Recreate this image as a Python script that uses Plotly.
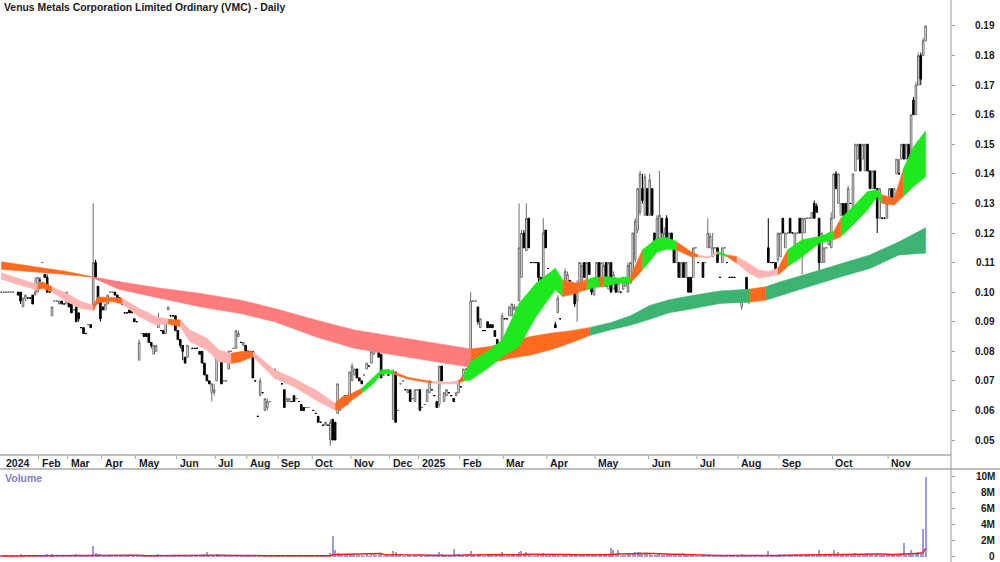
import plotly.graph_objects as go
import pandas as pd

# ---------------- DATA (prices in thousandths of a dollar: open, high, low, close) ----------------
JAN24 = [(100,100,100,100),(100,100,100,100),(100,100,100,100),(100,100,100,100),(100,100,100,100),(100,100,100,100),(103,103,103,103),(100,100,99,99),(100,100,96,97),(95,98,95,98),(98,99,97,99),(98,98,98,98),(98,98,98,98),(99,99,96,96),(99,105,99,100),(100,105,100,105)]
FEB24 = [(104,105,103,104),(110,110,110,110),(106,106,105,105),(105,106,100,100),(100,100,100,100),(92,95,92,95),(97,97,97,97),(97,97,97,97),(96,97,96,97),(97,97,96,96),(96,96,96,96),(96,100,96,100)]
MAR24 = [(97,97,95,95),(96,96,93,93),(94,94,94,94),(95,95,90,90),(93,93,90,91),(88,88,88,88),(88,88,86,86),(86,86,86,86),(89,89,89,89),(89,89,88,88),(94,130,94,110),(110,111,105,105),(102,102,96,97),(97,97,90,91)]
APR24 = [(95,95,94,94),(94,96,94,96),(96,99,96,99),(100,100,100,100),(100,100,100,100),(100,100,99,99),(99,99,98,98),(98,98,98,98),(96,96,96,96),(93,93,93,93),(93,93,93,93),(94,94,93,93),(94,94,93,93),(91,91,90,90)]
MAY24 = [(90,90,90,90),(77,84,77,83),(86,86,86,86),(86,86,85,85),(86,86,85,85),(86,86,83,83),(83,83,81,82),(79,82,79,82),(80,82,80,82),(88,93,88,90),(87,87,87,87),(87,87,86,86),(86,90,86,90),(94,95,94,95),(92,92,92,92),(92,92,92,92),(92,92,87,87)]
JUN24 = [(87,87,84,84),(84,84,81,82),(82,82,77,80),(78,78,76,76),(78,82,78,82),(86,86,86,86),(81,81,81,81),(81,81,81,81),(81,81,81,81),(80,80,79,79),(80,80,76,76),(76,76,72,72),(72,72,70,70),(70,70,69,69),(66,69,63,69),(66,69,65,67)]
JUL24 = [(70,80,70,80),(78,78,77,77),(77,77,69,69),(70,70,70,70),(70,70,70,70),(74,80,74,80),(80,80,80,80),(81,81,81,81),(81,87,81,87),(85,87,85,86),(83,83,83,83),(82,83,82,83),(82,82,80,80)]
AUG24 = [(80,80,80,80),(80,80,79,79),(80,80,71,71),(70,70,70,70),(58,58,58,58),(65,71,65,70),(66,66,66,66),(60,64,60,64),(61,64,60,63),(63,63,63,63),(73,73,73,73),(72,74,72,74),(73,73,73,73)]
SEP24 = [(71,71,71,71),(69,69,69,69),(67,67,61,61),(63,64,63,64),(63,64,63,64),(63,63,63,63),(65,65,63,63),(64,64,64,64),(63,63,63,63),(62,62,60,60),(61,61,60,60),(61,61,61,61),(61,61,61,61),(67,67,67,67)]
OCT24 = [(60,60,60,60),(59,59,59,59),(58,58,56,56),(56,56,56,56),(55,55,55,55),(55,56,55,56),(55,55,55,55),(50,57,48,56),(57,57,50,50),(56,56,50,50),(59,69,59,69),(60,63,60,63),(62,64,62,64),(65,65,62,62),(62,64,62,64),(63,73,63,73)]
NOV24 = [(70,76,70,75),(72,74,72,74),(74,74,71,71),(71,71,70,70),(70,70,69,69),(72,72,72,72),(74,76,74,76),(75,75,75,75),(76,80,76,80),(79,81,79,81),(80,81,80,81),(81,81,78,78),(79,79,71,71),(72,72,72,72),(73,73,73,73),(72,72,72,72)]
DEC24 = [(73,73,73,73),(57,74,57,73),(73,73,56,56),(60,60,60,60),(69,69,69,69),(70,70,70,70),(67,67,67,67),(66,67,66,67),(67,67,63,63),(64,64,64,64),(63,67,63,67),(67,67,67,67)]
JAN25 = [(67,67,60,60),(61,61,61,61),(62,62,62,62),(63,67,63,67),(66,70,66,70),(67,67,67,67),(65,65,65,65),(63,63,61,61),(62,75,61,75),(75,75,70,70),(63,66,63,66),(65,67,65,67),(66,66,66,66),(65,65,65,65),(64,64,63,63),(65,66,65,66),(66,70,66,70)]
FEB25 = [(68,68,68,68),(70,74,70,74),(74,74,74,74),(74,76,74,76),(77,100,76,97),(97,97,97,97),(97,97,97,97),(95,95,89,90),(88,91,88,91),(87,87,87,87),(87,87,87,87),(90,90,88,88),(89,89,88,88),(89,89,88,88),(87,87,85,85),(84,84,79,79),(80,82,80,82),(77,93,77,92)]
MAR25 = [(91,91,91,91),(91,91,91,91),(92,95,92,95),(92,96,92,96),(94,96,94,95),(91,95,91,95),(97,130,97,115),(105,121,105,120),(120,121,115,115),(114,130,114,125),(125,125,115,115),(110,110,110,110),(110,110,110,110),(110,110,110,110),(110,110,101,105),(105,105,101,101),(101,125,101,120),(121,121,115,115)]
APR25 = [(108,108,108,108),(101,105,101,105),(104,104,103,103),(89,90,88,88),(93,99,93,98),(91,91,91,91),(100,101,100,101),(102,108,102,107),(103,107,103,106),(104,104,103,103),(101,103,101,103),(102,102,95,96),(97,104,90,103),(103,110,103,110),(104,110,104,109),(110,110,105,105),(104,110,104,110),(110,110,106,106),(104,104,99,100),(99,104,99,103)]
MAY25 = [(104,110,104,110),(110,110,103,103),(102,110,102,110),(103,110,103,109),(110,110,102,102),(101,110,101,110),(110,110,100,100),(101,107,101,106),(104,104,100,100),(100,104,100,103),(100,100,100,100),(101,105,101,105),(102,105,102,104),(100,110,100,109),(103,110,103,110),(105,120,105,120),(111,125,110,124),(121,135,120,135),(127,141,126,140),(135,140,130,131),(126,140,126,139),(135,135,126,126)]
JUN25 = [(126,140,126,138),(135,135,126,126),(120,120,115,115),(116,126,115,125),(116,141,116,126),(125,125,118,120),(118,122,116,120),(125,126,115,115),(115,120,115,120),(120,120,115,115),(115,115,110,110),(110,115,110,115),(110,110,105,105),(105,110,105,110),(110,110,105,105),(105,110,105,110),(105,105,100,100),(105,105,100,100),(105,115,105,115),(115,115,115,115)]
JUL25 = [(110,110,110,110),(112,112,112,112),(110,110,105,105),(110,110,110,110),(115,125,115,120),(115,120,115,119),(112,120,112,115),(115,115,115,115),(115,115,110,110),(105,105,105,105),(110,115,110,115),(115,115,115,115),(110,110,110,110),(105,105,105,105),(105,105,105,105),(105,105,105,105),(100,100,99,99)]
AUG25 = [(100,100,99,99),(95,100,94,100),(99,99,99,99),(105,105,100,100),(98,100,96,100),(98,100,98,100),(98,100,98,99),(98,100,98,100),(98,100,98,100),(99,100,99,100),(100,100,100,100),(100,100,100,100),(115,125,110,110),(110,110,110,110),(110,110,110,110),(110,110,106,106),(111,120,110,120)]
SEP25 = [(112,120,112,120),(125,125,120,120),(115,120,115,120),(120,120,120,120),(125,125,120,120),(120,120,120,120),(115,120,115,120),(120,120,120,120),(125,125,120,120),(120,125,106,125),(120,125,120,125),(125,125,125,125),(125,125,125,125),(125,127,125,127),(130,131,125,125),(129,130,127,127),(125,125,106,110),(110,120,110,120),(110,115,110,115),(115,115,115,115),(116,120,116,120),(115,127,115,125)]
OCT25 = [(125,140,125,140),(140,141,135,135),(130,140,130,140),(126,130,126,130),(130,130,126,126),(130,130,126,126),(126,136,126,135),(130,130,130,130),(126,140,126,140),(141,150,141,150),(145,150,145,150),(150,150,141,141),(145,150,145,150),(141,150,141,150),(150,150,141,141),(141,141,135,135),(135,141,135,141),(141,141,135,135),(135,135,120,125),(125,135,125,135),(125,125,125,125),(125,125,125,125),(125,130,125,130)]
NOV25 = [(130,135,130,135),(135,135,130,131),(131,135,131,135),(140,145,140,145),(140,145,140,140),(145,150,145,150),(150,150,145,145),(145,150,145,150),(150,150,145,145),(145,160,145,160),(165,166,160,160),(160,171,160,170),(170,181,170,180),(180,181,170,172),(180,186,180,185),(185,190,185,190)]

# daily volume, thousands of shares
JAN24_V = [120,60,90,40,150,80,30,250,300,180,90,60,70,220,180,260]
FEB24_V = [200,60,120,280,90,350,50,40,120,100,60,230]
MAR24_V = [180,220,60,300,250,40,150,60,80,120,1300,450,300,280]
APR24_V = [150,120,200,60,40,90,130,50,60,120,40,80,150,200]
MAY24_V = [60,250,40,120,180,150,200,220,160,400,60,90,200,120,80,50,250]
JUN24_V = [200,150,250,120,160,60,80,60,70,120,250,300,550,200,250,180]
JUL24_V = [300,120,250,60,60,200,40,60,180,120,60,90,150]
AUG24_V = [60,120,250,80,30,150,60,180,140,60,80,120,60]
SEP24_V = [50,40,250,80,90,60,150,40,60,200,120,50,40,90]
OCT24_V = [80,60,200,40,50,120,80,500,2600,900,450,250,300,200,180,400]
NOV24_V = [350,200,250,150,120,60,300,80,350,450,250,300,500,80,120,90]
DEC24_V = [60,700,650,60,120,80,60,150,200,60,180,60]
JAN25_V = [250,60,60,180,220,60,40,200,600,300,150,200,60,40,1000,200,300]
FEB25_V = [80,250,60,300,700,120,60,350,250,60,60,200,180,150,220,400,250,600]
MAR25_V = [90,60,250,300,200,250,600,700,450,600,400,80,60,60,350,250,500,300]
APR25_V = [80,200,150,300,250,60,200,300,250,120,150,300,400,350,250,200,220,180,250,200]
MAY25_V = [300,250,200,250,300,250,1100,900,300,800,60,250,200,350,300,500,600,550,600,400,350,300]
JUN25_V = [300,250,200,250,400,200,150,300,180,200,250,150,200,180,150,200,250,150,250,60]
JUL25_V = [60,60,200,60,250,150,200,60,180,60,150,60,60,40,60,40,150]
AUG25_V = [200,300,60,250,150,120,100,90,120,100,60,60,700,100,80,200,250]
SEP25_V = [300,250,150,100,200,120,150,100,200,250,200,120,100,150,250,200,800,300,250,100,300,350]
OCT25_V = [800,400,600,250,200,150,300,120,350,500,300,350,200,300,450,250,300,200,500,350,150,120,250]
NOV25_V = [250,300,200,400,350,500,1700,400,300,800,400,450,600,300,3500,9900]

MONTH_LABELS = ["2024","Feb","Mar","Apr","May","Jun","Jul","Aug","Sep","Oct","Nov","Dec",
                "2025","Feb","Mar","Apr","May","Jun","Jul","Aug","Sep","Oct","Nov"]
MONTH_BARS = [JAN24,FEB24,MAR24,APR24,MAY24,JUN24,JUL24,AUG24,SEP24,OCT24,NOV24,DEC24,
              JAN25,FEB25,MAR25,APR25,MAY25,JUN25,JUL25,AUG25,SEP25,OCT25,NOV25]
MONTH_VOLS = [JAN24_V,FEB24_V,MAR24_V,APR24_V,MAY24_V,JUN24_V,JUL24_V,AUG24_V,SEP24_V,OCT24_V,NOV24_V,DEC24_V,
              JAN25_V,FEB25_V,MAR25_V,APR25_V,MAY25_V,JUN25_V,JUL25_V,AUG25_V,SEP25_V,OCT25_V,NOV25_V]

# short-term moving-average ribbon (bar index, upper, lower in thousandths, colour state)
SHORT_X  = [0,8,15,17,21,27,33,38,40,46,50,57,64,69,74,78,85,90,95,99,104,113,121,130,138,141,145,149,154,157,160,162,168,176,178,185,189,191,194,202,207,214,221,229,232,238,239,242,245,247,249,255,260,261,265,271,275,277,279,285,288,292,296,300,304,309,313,317,321,325,331,338,344,347,352,358,362,364,369,373,377,382]
SHORT_UP = [106.6,104.6,102.6,103.5,101.8,99.6,96.8,95.6,98.4,98.2,97.9,94.5,91.7,90.9,90.6,87.2,84.4,80.4,79.3,79.9,79.9,73.7,70.8,66.9,62.4,64.6,65.8,67.5,71.4,73.7,73.9,73.2,71.2,70.0,69.8,69.5,70.0,72.0,76.5,80.5,83.8,96.2,103.0,108.1,104.1,103.0,103.5,104.1,105.0,105.0,105.3,104.8,105.3,107.0,114.3,118.2,118.5,117.8,117.1,113.7,112.6,112.0,113.7,112.6,112.0,109.8,107.5,107.0,108.1,114.3,117.7,118.8,120.5,125.0,128.9,134.0,134.6,132.9,131.7,142.0,149.2,154.5]
SHORT_LO = [104.4,102.4,100.6,101.3,100.1,96.8,94.5,93.9,96.4,96.8,96.0,91.7,88.9,89.2,88.3,83.2,80.4,76.5,75.9,76.5,78.2,70.8,68.0,63.5,60.1,60.7,63.5,65.8,69.2,72.3,72.5,72.3,70.6,69.5,69.3,68.9,69.1,70.0,70.3,74.8,78.2,81.6,91.7,100.8,98.5,99.6,100.2,100.8,101.5,101.7,101.9,103.0,103.0,104.0,107.5,113.5,114.5,114.4,114.3,112.0,112.0,111.5,112.9,112.0,109.8,106.4,104.7,105.3,105.8,108.6,112.0,116.5,117.7,118.8,122.7,127.8,132.3,130.0,129.5,132.5,135.7,139.0]
SHORT_STATE = list("PPOOPPPOOOPPPOPPPPOOPPPPOOOGGGGOOOPPOGGGGGGGOOOGGOGGOOGGGGOOPPGOPPPPOGGGOGGGGOOGGGG")

# long-term moving-average ribbon
LONG_X  = [0,13,27,37,49,66,82,99,113,130,146,163,179,194,202,210,219,227,235,243,252,260,268,276,285,297,309,316,322,334,347,359,371,382]
LONG_UP = [110.3,108.6,107.0,105.3,103.5,101.3,99.6,97.3,94.5,90.6,87.2,84.9,82.7,80.8,81.6,83.3,85.0,86.1,86.9,88.0,89.7,92.0,95.5,97.4,98.8,100.4,101.0,101.8,103.5,106.4,109.7,112.6,117.0,121.8]
LONG_LO = [107.7,106.8,106.0,105.1,100.9,97.9,95.1,92.8,90.0,84.9,81.0,78.7,76.5,74.6,76.0,77.6,78.8,80.5,82.7,85.3,87.3,88.8,90.8,93.0,94.3,96.2,96.6,97.3,99.0,101.9,105.2,108.0,112.6,113.2]
LONG_STATE = list("OOOSSSSSSSSSSOOOOOOGGGGGGGOGGGGGGG")

PRICE_TICKS = [0.05,0.06,0.07,0.08,0.09,0.10,0.11,0.12,0.13,0.14,0.15,0.16,0.17,0.18,0.19]
VOL_TICKS = [0, 2e6, 4e6, 6e6, 8e6, 10e6]
VOL_TICK_TEXT = ["0","2M","4M","6M","8M","10M"]

# ---------------- BUILD ----------------
opens, highs, lows, closes, vols, starts = [], [], [], [], [], []
for bars, vv in zip(MONTH_BARS, MONTH_VOLS):
    starts.append(len(opens))
    for (o, h, l, c) in bars:
        opens.append(o / 1000); highs.append(h / 1000); lows.append(l / 1000); closes.append(c / 1000)
    vols.extend(v * 1000 for v in vv)
idx = list(range(len(opens)))
vol_ma = pd.Series(vols).rolling(21, min_periods=1).mean()

FONT = "Liberation Sans, Arial, sans-serif"
SHORT_COL = {"P": "#ffb4b4", "O": "#ff6a1e", "G": "#1ee81e"}
LONG_COL = {"S": "#ff7c7c", "O": "#ff6a1e", "G": "#3cb371"}

fig = go.Figure()


def add_ribbon(xs, ups, los, states, cols):
    n = len(xs)
    i = 0
    while i < n - 1:
        j = i + 1
        while j < n - 1 and states[j] == states[i]:
            j += 1
        px = xs[i:j + 1] + xs[i:j + 1][::-1]
        py = [u / 1000 for u in ups[i:j + 1]] + [l / 1000 for l in los[i:j + 1]][::-1]
        fig.add_trace(go.Scatter(x=px, y=py, mode="lines", fill="toself",
                                 fillcolor=cols[states[i]], line=dict(width=0.6, color=cols[states[i]]),
                                 hoverinfo="skip", showlegend=False, xaxis="x", yaxis="y"))
        i = j


add_ribbon(LONG_X, LONG_UP, LONG_LO, LONG_STATE, LONG_COL)
add_ribbon(SHORT_X, SHORT_UP, SHORT_LO, SHORT_STATE, SHORT_COL)

fig.add_trace(go.Candlestick(
    x=idx, open=opens, high=highs, low=lows, close=closes,
    increasing=dict(line=dict(color="#6e6e6e", width=1), fillcolor="white"),
    decreasing=dict(line=dict(color="#000000", width=1), fillcolor="#000000"),
    whiskerwidth=0, showlegend=False, xaxis="x", yaxis="y", hoverinfo="skip"))

fig.add_trace(go.Bar(x=idx, y=vols, marker=dict(color="#9a9ae0", line=dict(width=0)),
                     width=0.45, showlegend=False, xaxis="x2", yaxis="y2", hoverinfo="skip"))
fig.add_trace(go.Scatter(x=idx, y=vol_ma, mode="lines", line=dict(color="#ff1a1a", width=1.5),
                         showlegend=False, xaxis="x2", yaxis="y2", hoverinfo="skip"))

H = 562.0
WX = 0.951
price_dom = [1 - 455 / H, 1]
vol_dom = [0, 1 - 469 / H]
xr = [-0.5, 392.5]

annotations = []
for v in PRICE_TICKS:
    annotations.append(dict(x=0.997, xref="paper", y=v, yref="y", xanchor="right", yanchor="middle",
                            text="<b>%.2f</b>" % v, showarrow=False,
                            font=dict(family=FONT, size=10, color="#1a1a1a")))
for v, t in zip(VOL_TICKS, VOL_TICK_TEXT):
    annotations.append(dict(x=0.997, xref="paper", y=v, yref="y2", xanchor="right", yanchor="middle",
                            text="<b>%s</b>" % t, showarrow=False,
                            font=dict(family=FONT, size=10, color="#1a1a1a")))
for s, lab in zip(starts, MONTH_LABELS):
    annotations.append(dict(x=s - 0.5, xref="x", y=1 - 463 / H, yref="paper", xanchor="left", yanchor="middle",
                            xshift=1 if s > 0 else 4, text="<b>%s</b>" % lab, showarrow=False,
                            font=dict(family=FONT, size=10.5, color="#1a1a2a")))
annotations.append(dict(x=0.002, xref="paper", y=1 - 8 / H, yref="paper", xanchor="left", yanchor="middle",
                        text="<b>Venus Metals Corporation Limited Ordinary (VMC) - Daily</b>", showarrow=False,
                        font=dict(family=FONT, size=10.4, color="#1a1a1a")))
annotations.append(dict(x=0.003, xref="paper", y=1 - 478 / H, yref="paper", xanchor="left", yanchor="middle",
                        text="<b>Volume</b>", showarrow=False, font=dict(family=FONT, size=10.5, color="#8080c4")))

shapes = [
    dict(type="line", xref="paper", yref="paper", x0=0, x1=WX, y0=1 - 455 / H, y1=1 - 455 / H,
         line=dict(color="#a8a8a8", width=1.5)),
    dict(type="line", xref="paper", yref="paper", x0=0, x1=1, y0=1 - 469 / H, y1=1 - 469 / H,
         line=dict(color="#a8a8a8", width=1.5)),
    dict(type="line", xref="paper", yref="paper", x0=WX, x1=WX, y0=0, y1=1,
         line=dict(color="#9a9a9a", width=1)),
]
for s in starts[1:]:
    shapes.append(dict(type="line", xref="x", yref="paper", x0=s - 0.5, x1=s - 0.5,
                       y0=1 - 455 / H, y1=1 - 459 / H, line=dict(color="#a8a8a8", width=1)))

axis_common = dict(showgrid=False, zeroline=False, showline=False)
fig.update_layout(
    width=1000, height=562, margin=dict(l=0, r=0, t=0, b=0),
    paper_bgcolor="white", plot_bgcolor="white", showlegend=False, bargap=0, boxgap=0.05,
    xaxis=dict(domain=[0, WX], range=xr, anchor="y", showticklabels=False, ticks="",
               rangeslider=dict(visible=False), **axis_common),
    xaxis2=dict(domain=[0, WX], range=xr, anchor="y2", matches="x", showticklabels=False, ticks="",
                **axis_common),
    yaxis=dict(domain=price_dom, range=[0.04493, 0.19879], side="right", anchor="x",
               tickvals=PRICE_TICKS, ticks="outside", ticklen=3, tickcolor="#999999",
               showticklabels=False, **axis_common),
    yaxis2=dict(domain=vol_dom, range=[-0.66e6, 10.96e6], side="right", anchor="x2",
                tickvals=VOL_TICKS, ticks="outside", ticklen=3, tickcolor="#999999",
                showticklabels=False, **axis_common),
    annotations=annotations, shapes=shapes,
)

fig.write_html("out.html")
